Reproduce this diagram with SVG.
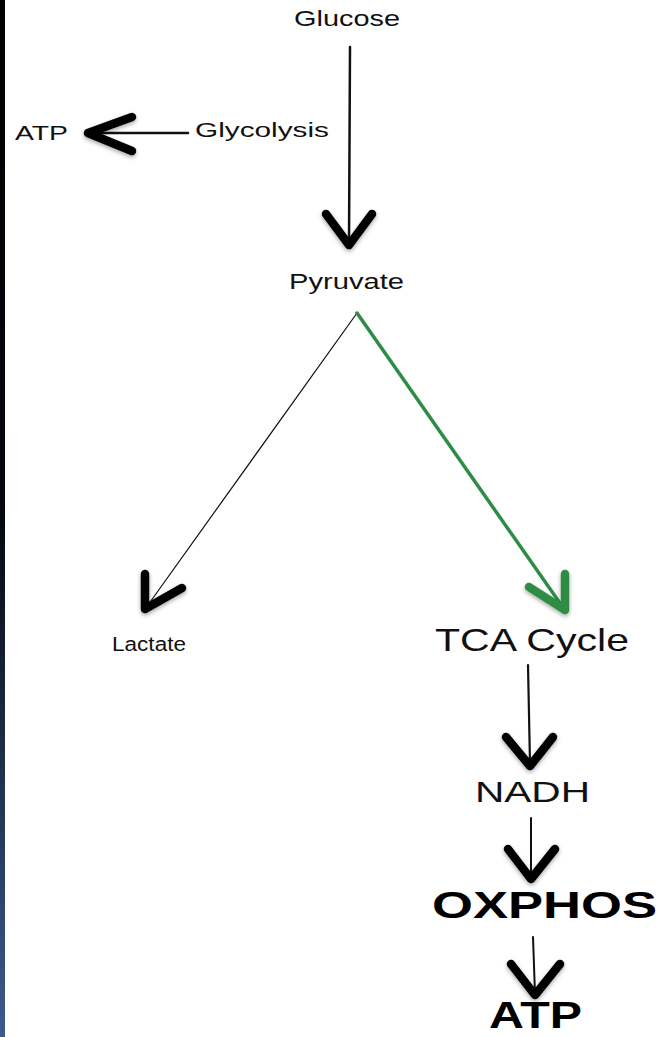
<svg xmlns="http://www.w3.org/2000/svg" width="660" height="1037" viewBox="0 0 660 1037">
<defs>
<linearGradient id="strip" x1="0" y1="0" x2="0" y2="1">
<stop offset="0" stop-color="#000"/>
<stop offset="0.5" stop-color="#050810"/>
<stop offset="1" stop-color="#3d5a8e"/>
</linearGradient>
<filter id="sh" x="-30%" y="-30%" width="160%" height="160%">
<feDropShadow dx="0" dy="2" stdDeviation="2" flood-color="#000" flood-opacity="0.35"/>
</filter>
</defs>
<style>
.t{font-family:"Liberation Sans",Arial,sans-serif;fill:#111;text-anchor:start}
.b{font-weight:bold;fill:#000}
.ln{fill:none;stroke:#111;stroke-linecap:round}
.hd{fill:none;stroke:#000;stroke-width:8.5;stroke-linecap:round;stroke-linejoin:round;filter:url(#sh)}
.gr{stroke:#2d8c45}
</style>
<rect x="0" y="0" width="660" height="1037" fill="#fff"/>
<rect x="0" y="0" width="5" height="1037" fill="url(#strip)"/>

<g id="connectors">
<line class="ln" x1="350" y1="47" x2="349" y2="244" stroke-width="2.5"/>
<polyline class="hd" points="326,214 349,245 372,214"/>
<line class="ln" x1="188" y1="133" x2="90" y2="133" stroke-width="2.5"/>
<polyline class="hd" points="132,117 88,133 132,151"/>
<line class="ln" x1="357" y1="313" x2="148" y2="605" stroke-width="1.2"/>
<polyline class="hd" points="145,574 145,609 182,588"/>
<line class="ln gr" x1="357" y1="313" x2="562" y2="606" stroke-width="3.5"/>
<polyline class="hd gr" points="529,587 565,610 565,574"/>
<line class="ln" x1="528" y1="665" x2="530" y2="764" stroke-width="2.2"/>
<polyline class="hd" points="506,737 530,766 553,737"/>
<line class="ln" x1="531" y1="818" x2="531" y2="878" stroke-width="2"/>
<polyline class="hd" points="508,849 531,879 555,849"/>
<line class="ln" x1="533" y1="937" x2="535" y2="994" stroke-width="2"/>
<polyline class="hd" points="511,964 535,995 560,964"/>
</g>

<g id="glucose"><text class="t" x="294" y="26" font-size="22" textLength="106" lengthAdjust="spacingAndGlyphs">Glucose</text></g>
<g id="glycolysis"><text class="t" x="195" y="137" font-size="21" textLength="134" lengthAdjust="spacingAndGlyphs">Glycolysis</text></g>
<g id="atp-top"><text class="t" x="15" y="140" font-size="21" textLength="53" lengthAdjust="spacingAndGlyphs">ATP</text></g>
<g id="pyruvate"><text class="t" x="289" y="289" font-size="22" textLength="115" lengthAdjust="spacingAndGlyphs">Pyruvate</text></g>
<g id="lactate"><text class="t" x="112" y="651" font-size="20" textLength="74" lengthAdjust="spacingAndGlyphs">Lactate</text></g>
<g id="tca"><text class="t" x="435" y="651" font-size="32" textLength="194" lengthAdjust="spacingAndGlyphs">TCA Cycle</text></g>
<g id="nadh"><text class="t" x="475" y="802" font-size="30" textLength="115" lengthAdjust="spacingAndGlyphs">NADH</text></g>
<g id="oxphos"><text class="t b" x="432" y="918" font-size="36" textLength="225" lengthAdjust="spacingAndGlyphs">OXPHOS</text></g>
<g id="atp-bottom"><text class="t b" x="489" y="1028" font-size="36" textLength="93" lengthAdjust="spacingAndGlyphs">ATP</text></g>
</svg>
